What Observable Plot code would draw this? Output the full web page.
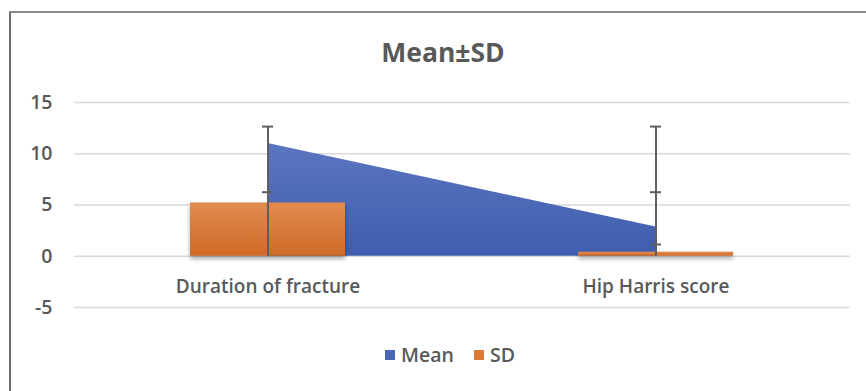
<!DOCTYPE html>
<html>
<head>
<meta charset="utf-8">
<script src="https://cdn.jsdelivr.net/npm/d3@7"></script>
<script src="https://cdn.jsdelivr.net/npm/@observablehq/plot@0.6"></script>
<style>
  html, body { margin: 0; padding: 0; background: #fff; }
  body { width: 866px; height: 391px; position: relative; overflow: hidden; font-family: "Open Sans", sans-serif; }
  #frame { position: absolute; left: 9px; top: 11px; width: 900px; height: 420px; border-left: 2px solid #6e6e6e; border-top: 2px solid #8a8a8a; box-sizing: border-box; }
  #title { position: absolute; left: 0; width: 886px; top: 34px; line-height: 36px; text-align: center; font-size: 26.5px; font-weight: 700; color: #595959; }
  #chart { position: absolute; left: 0; top: 0; }
  #legend { position: absolute; top: 341px; left: 0; width: 900px; line-height: 28px; display: flex; justify-content: center; gap: 20px; font-size: 19.5px; font-weight: 600; color: #595959; }
  #legend span.item { display: flex; align-items: center; gap: 6px; }
  #legend i { display: inline-block; width: 10px; height: 10px; }
</style>
</head>
<body>
<div id="frame"></div>
<div id="chart"></div>
<div id="title">Mean±SD</div>
<div id="legend"></div>
<script>
const categories = ["Duration of fracture", "Hip Harris score"];
const meanValues = [11.0, 2.85];
const sdValues = [5.2, 0.4];
const errorLow = [0, 0];
const errorHigh = [12.65, 12.65];
const capCategories = ["Duration of fracture", "Duration of fracture", "Hip Harris score", "Hip Harris score", "Hip Harris score"];
const capValues = [12.65, 6.25, 12.65, 6.25, 1.15];
const yTicks = [-5, 0, 5, 10, 15];
const seriesNames = ["Mean", "SD"];
const seriesColors = ["#4a67b6", "#dc7a35"];

const rows = categories.map((c, i) => ({category: c, mean: meanValues[i], sd: sdValues[i], low: errorLow[i], high: errorHigh[i]}));
const caps = capCategories.map((c, i) => ({category: c, value: capValues[i]}));

const plot = Plot.plot({
  width: 866,
  height: 391,
  marginLeft: 74,
  marginRight: 16,
  marginTop: 102,
  marginBottom: 84,
  style: {fontFamily: "Open Sans, sans-serif", fontSize: "19px", color: "#595959", background: "transparent"},
  x: {domain: categories, paddingInner: 0.6, paddingOuter: 0.3, axis: null},
  y: {domain: [-5, 15], ticks: yTicks, label: null},
  marks: [
    Plot.gridY(yTicks, {stroke: "#d9d9d9", strokeOpacity: 1, strokeWidth: 1.5}),
    Plot.axisY(yTicks, {tickSize: 0, tickPadding: 22, label: null, fill: "#595959", fontSize: 19.5, fontWeight: 600, tickFormat: d => String(d)}),
    Plot.areaY(rows, {x: "category", y: "mean", fill: "url(#gradBlue)", curve: "linear"}),
    Plot.barY(rows, {x: "category", y: "sd", fill: "url(#gradOrange)"}),
    Plot.ruleX(rows, {x: "category", y1: "low", y2: "high", stroke: "#5f5f5f", strokeWidth: 2}),
    Plot.tickY(caps, {x: "category", y: "value", stroke: "#5f5f5f", strokeWidth: 2, inset: 72}),
    Plot.text(categories, {x: d => d, y: () => 0, dy: 31, text: d => d, fill: "#595959", fontSize: 19, fontWeight: 600})
  ]
});

const defs = d3.select(plot).insert("defs", ":first-child");
const gb = defs.append("linearGradient").attr("id", "gradBlue").attr("x1", 0).attr("y1", 0).attr("x2", 0).attr("y2", 1);
gb.append("stop").attr("offset", "0%").attr("stop-color", "#5b76c0");
gb.append("stop").attr("offset", "100%").attr("stop-color", "#3f5dae");
const go = defs.append("linearGradient").attr("id", "gradOrange").attr("x1", 0).attr("y1", 0).attr("x2", 0).attr("y2", 1);
go.append("stop").attr("offset", "0%").attr("stop-color", "#e28b50");
go.append("stop").attr("offset", "100%").attr("stop-color", "#cf6a26");
d3.select(plot).selectAll("g[aria-label='bar'] rect").attr("style", "filter: drop-shadow(0px 3px 2px rgba(0,0,0,0.35))");

document.getElementById("chart").appendChild(plot);

const legend = document.getElementById("legend");
seriesNames.forEach((name, i) => {
  const item = document.createElement("span");
  item.className = "item";
  const sw = document.createElement("i");
  sw.style.background = seriesColors[i];
  item.appendChild(sw);
  item.appendChild(document.createTextNode(name));
  legend.appendChild(item);
});
</script>
</body>
</html>
